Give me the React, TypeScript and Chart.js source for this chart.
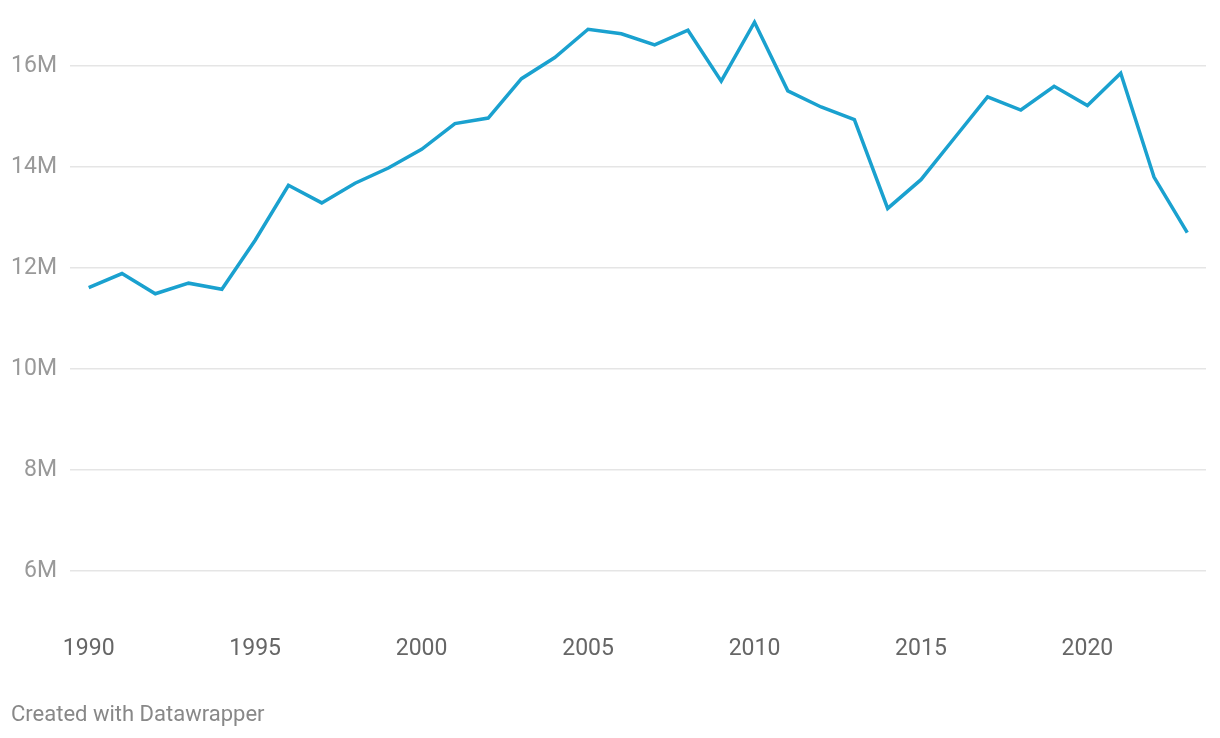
import { useEffect, useRef } from 'react';
import { Chart, registerables } from 'chart.js';

Chart.register(...registerables);

const years = [
  1990, 1991, 1992, 1993, 1994, 1995, 1996, 1997, 1998, 1999,
  2000, 2001, 2002, 2003, 2004, 2005, 2006, 2007, 2008, 2009,
  2010, 2011, 2012, 2013, 2014, 2015, 2016, 2017, 2018, 2019,
  2020, 2021, 2022, 2023,
];

// values in millions
const values = [
  11.61, 11.89, 11.49, 11.70, 11.58, 12.55, 13.64, 13.29, 13.68, 13.98,
  14.35, 14.86, 14.97, 15.75, 16.17, 16.73, 16.64, 16.42, 16.71, 15.70,
  16.87, 15.51, 15.19, 14.94, 13.18, 13.75, 14.57, 15.39, 15.13, 15.60,
  15.22, 15.86, 13.80, 12.70,
];

const yTicks = [6, 8, 10, 12, 14, 16];
const xTicks = [1990, 1995, 2000, 2005, 2010, 2015, 2020];

export default function App() {
  const ref = useRef<HTMLCanvasElement>(null);

  useEffect(() => {
    document.body.style.margin = '0';
    const canvas = ref.current;
    if (!canvas) return;
    const chart = new Chart(canvas, {
      type: 'line',
      data: {
        datasets: [
          {
            data: years.map((yr, i) => ({ x: yr, y: values[i] * 1e6 })),
            borderColor: '#1aa1cf',
            borderWidth: 3.5,
            pointRadius: 0,
            tension: 0,
            borderJoinStyle: 'miter',
            fill: false,
          },
        ],
      },
      options: {
        responsive: false,
        animation: false,
        layout: { padding: { left: 0, right: 14, top: 15.6, bottom: 66.6 } },
        plugins: {
          legend: { display: false },
          tooltip: { enabled: false },
        },
        scales: {
          x: {
            type: 'linear',
            min: 1990 - 0.562,
            max: 2023 + 0.562,
            afterBuildTicks: (scale: any) => {
              scale.ticks = xTicks.map((v) => ({ value: v }));
            },
            afterFit: (scale: any) => {
              scale.height = 50;
              scale.paddingLeft = 0;
              scale.paddingRight = 0;
              scale.paddingTop = 0;
              scale.paddingBottom = 0;
            },
            grid: { display: false, drawTicks: false },
            border: { display: false },
            ticks: {
              padding: 14,
              color: '#666666',
              font: { family: 'Roboto', size: 23 },
              callback: (v: any) => String(v),
              maxRotation: 0,
              autoSkip: false,
            },
          },
          y: {
            type: 'linear',
            min: 5e6,
            max: 17e6,
            afterBuildTicks: (scale: any) => {
              scale.ticks = yTicks.map((v) => ({ value: v * 1e6 }));
            },
            afterFit: (scale: any) => {
              scale.width = 70;
              scale.paddingLeft = 0;
              scale.paddingRight = 0;
              scale.paddingTop = 0;
              scale.paddingBottom = 0;
            },
            grid: { color: '#e5e5e5', lineWidth: 1.5, drawTicks: false },
            border: { display: false },
            ticks: {
              padding: 13,
              color: '#999999',
              font: { family: 'Roboto', size: 23 },
              callback: (v: any) => `${Number(v) / 1e6}M`,
            },
          },
        },
      },
    });
    return () => chart.destroy();
  }, []);

  return (
    <div style={{ position: 'relative', width: 1220, height: 738, background: '#fff' }}>
      <canvas ref={ref} width={1220} height={738} style={{ display: 'block' }} />
      <div
        style={{
          position: 'absolute',
          left: 11,
          top: 701,
          fontFamily: 'Roboto',
          fontSize: 22,
          color: '#888888',
          whiteSpace: 'nowrap',
        }}
      >
        Created with Datawrapper
      </div>
    </div>
  );
}
